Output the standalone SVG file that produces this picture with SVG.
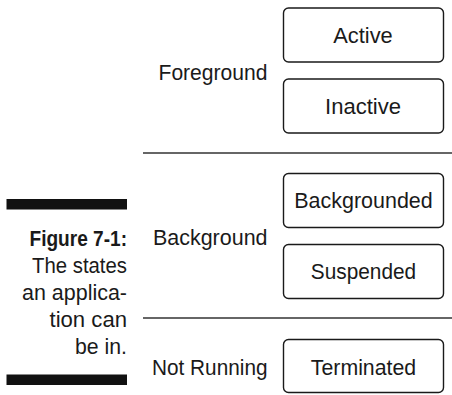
<svg xmlns="http://www.w3.org/2000/svg" width="452" height="395" viewBox="0 0 452 395">
<style>
text{font-family:"Liberation Sans",Arial,sans-serif;font-size:22.5px;fill:#1a1a1a}
.lbl{text-anchor:end}
.in{text-anchor:middle}
.cap{font-size:22px}
.box{fill:#fff;stroke:#1a1a1a;stroke-width:1.4}
.div{stroke:#333;stroke-width:1.5}
.bar{fill:#111}
</style>
<rect width="452" height="395" fill="#fff"/>
<g id="caption">
<rect class="bar" x="6.5" y="199" width="120.5" height="10.5"/>
<text class="lbl cap" x="127" y="246" font-weight="bold" textLength="97.5" lengthAdjust="spacingAndGlyphs">Figure 7-1:</text>
<text class="lbl cap" x="127" y="273" textLength="95" lengthAdjust="spacingAndGlyphs">The states</text>
<text class="lbl cap" x="127" y="300" textLength="105" lengthAdjust="spacingAndGlyphs">an applica-</text>
<text class="lbl cap" x="127" y="327" textLength="77.5" lengthAdjust="spacingAndGlyphs">tion can</text>
<text class="lbl cap" x="127" y="354" textLength="52" lengthAdjust="spacingAndGlyphs">be in.</text>
<rect class="bar" x="6.5" y="374.5" width="120.5" height="10.5"/>
</g>
<g id="connectors">
<line class="div" x1="143" y1="153" x2="452" y2="153"/>
<line class="div" x1="143" y1="318" x2="452" y2="318"/>
</g>
<g id="foreground"><text class="lbl" x="267.5" y="80" textLength="109" lengthAdjust="spacingAndGlyphs">Foreground</text></g>
<g id="background"><text class="lbl" x="267.5" y="245" textLength="114.5" lengthAdjust="spacingAndGlyphs">Background</text></g>
<g id="notrunning"><text class="lbl" x="267.5" y="374.5" textLength="115.5" lengthAdjust="spacingAndGlyphs">Not Running</text></g>
<g id="active"><rect class="box" x="283.5" y="8" width="160" height="54" rx="5"/><text class="in" x="363" y="42.5" textLength="59.5" lengthAdjust="spacingAndGlyphs">Active</text></g>
<g id="inactive"><rect class="box" x="283.5" y="79" width="160" height="54" rx="5"/><text class="in" x="363" y="113.5" textLength="76" lengthAdjust="spacingAndGlyphs">Inactive</text></g>
<g id="backgrounded"><rect class="box" x="283.5" y="173.5" width="160" height="54" rx="5"/><text class="in" x="363.5" y="207.5" textLength="138.5" lengthAdjust="spacingAndGlyphs">Backgrounded</text></g>
<g id="suspended"><rect class="box" x="283.5" y="244.5" width="160" height="54" rx="5"/><text class="in" x="363.5" y="279" textLength="105.3" lengthAdjust="spacingAndGlyphs">Suspended</text></g>
<g id="terminated"><rect class="box" x="283.5" y="339.5" width="160" height="53" rx="5"/><text class="in" x="363.5" y="374.5" textLength="105.3" lengthAdjust="spacingAndGlyphs">Terminated</text></g>
</svg>
